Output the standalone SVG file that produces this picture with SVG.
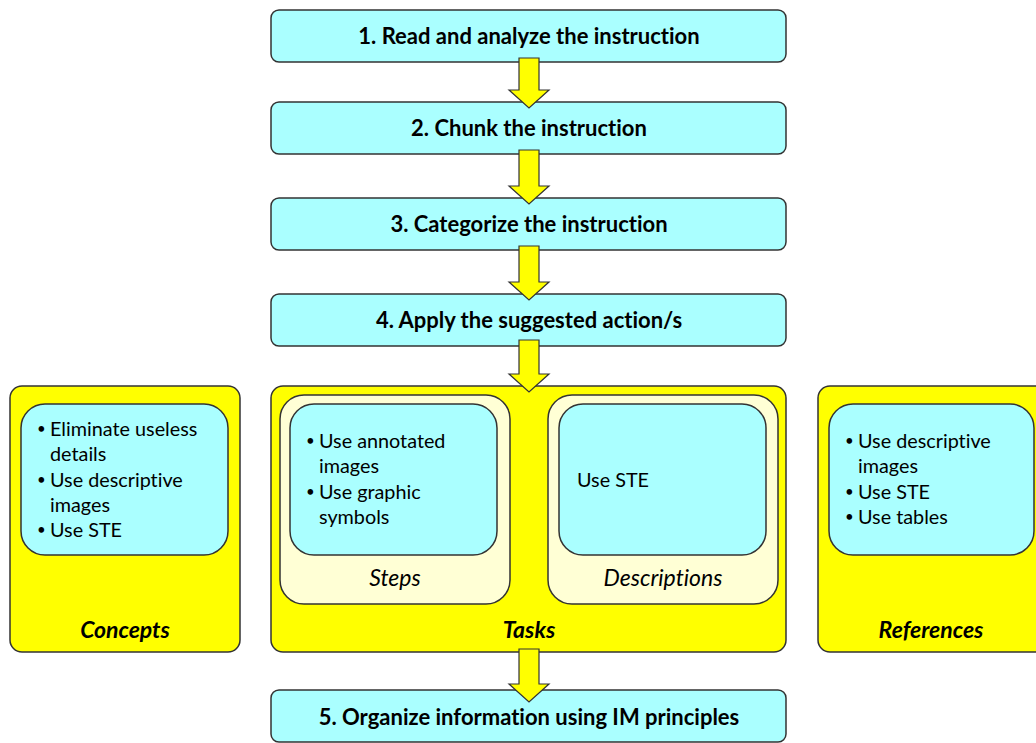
<svg xmlns="http://www.w3.org/2000/svg" width="1036" height="743" viewBox="0 0 1036 743">
<style>
text{font-variant-ligatures:none;font-feature-settings:"liga" 0}
.step{fill:#AAFFFF;stroke:#333;stroke-width:1.5}
.big{fill:#FFFF00;stroke:#333;stroke-width:1.5}
.pan{fill:#FFFFD5;stroke:#333;stroke-width:1.5}
.in{fill:#AAFFFF;stroke:#333;stroke-width:1.5}
.arr{fill:#FFFF00;stroke:#333;stroke-width:1.2;stroke-linejoin:miter}
.h{font-family:Lato,"Liberation Sans",sans-serif;font-weight:bold;font-size:22px;fill:#000;text-anchor:middle}
.t{font-family:Lato,"Liberation Sans",sans-serif;font-size:19.8px;fill:#000}
.b{font-family:Lato,"Liberation Sans",sans-serif;font-size:15px;fill:#000}
.lb{font-family:Lato,"Liberation Sans",sans-serif;font-weight:bold;font-style:italic;font-size:23px;fill:#000;text-anchor:middle}
.li{font-family:Lato,"Liberation Sans",sans-serif;font-style:italic;font-size:23px;fill:#000;text-anchor:middle}
</style>
<g id="concepts">
<rect class="big" x="10" y="386" width="230" height="266" rx="12"/>
<rect class="in" x="21" y="404" width="207" height="151" rx="24"/>
<text class="b" x="37" y="434">•</text><text class="t" x="50" y="436">Eliminate useless</text>
<text class="t" x="50" y="461">details</text>
<text class="b" x="37" y="485">•</text><text class="t" x="50" y="487">Use descriptive</text>
<text class="t" x="50" y="512">images</text>
<text class="b" x="37" y="535">•</text><text class="t" x="50" y="537">Use STE</text>
<text class="lb" x="125" y="638">Concepts</text>
</g>
<g id="tasks">
<rect class="big" x="271" y="386" width="515" height="266" rx="12"/>
<g id="steps">
<rect class="pan" x="280" y="395" width="230" height="209" rx="24"/>
<rect class="in" x="290" y="404" width="207" height="151" rx="24"/>
<text class="b" x="306" y="446">•</text><text class="t" x="319" y="448">Use annotated</text>
<text class="t" x="319" y="473">images</text>
<text class="b" x="306" y="497">•</text><text class="t" x="319" y="499">Use graphic</text>
<text class="t" x="319" y="524">symbols</text>
<text class="li" x="395" y="586">Steps</text>
</g>
<g id="descriptions">
<rect class="pan" x="548" y="395" width="230" height="209" rx="24"/>
<rect class="in" x="559" y="404" width="207" height="151" rx="24"/>
<text class="t" x="577" y="487">Use STE</text>
<text class="li" x="663" y="586">Descriptions</text>
</g>
<text class="lb" x="529" y="638">Tasks</text>
</g>
<g id="references">
<rect class="big" x="818" y="386" width="230" height="266" rx="12"/>
<rect class="in" x="829" y="404" width="205" height="151" rx="24"/>
<text class="b" x="845" y="446">•</text><text class="t" x="858" y="448">Use descriptive</text>
<text class="t" x="858" y="473">images</text>
<text class="b" x="845" y="497">•</text><text class="t" x="858" y="499">Use STE</text>
<text class="b" x="845" y="522">•</text><text class="t" x="858" y="524">Use tables</text>
<text class="lb" x="931" y="638">References</text>
</g>
<g id="step1"><rect class="step" x="271" y="10" width="515" height="52" rx="8"/><text class="h" x="529" y="44">1. Read and analyze the instruction</text></g>
<g id="step2"><rect class="step" x="271" y="102" width="515" height="52" rx="8"/><text class="h" x="529" y="136">2. Chunk the instruction</text></g>
<g id="step3"><rect class="step" x="271" y="198" width="515" height="52" rx="8"/><text class="h" x="529" y="232">3. Categorize the instruction</text></g>
<g id="step4"><rect class="step" x="271" y="294" width="515" height="52" rx="8"/><text class="h" x="529" y="328">4. Apply the suggested action/s</text></g>
<g id="step5"><rect class="step" x="271" y="690" width="515" height="52" rx="8"/><text class="h" x="529" y="725">5. Organize information using IM principles</text></g>
<g id="connectors">
<polygon class="arr" points="519,58 539,58 539,90 549,90 529,108 509,90 519,90"/>
<polygon class="arr" points="519,150 539,150 539,186 549,186 529,204 509,186 519,186"/>
<polygon class="arr" points="519,246 539,246 539,282 549,282 529,300 509,282 519,282"/>
<polygon class="arr" points="519,340 539,340 539,374 549,374 529,392 509,374 519,374"/>
<polygon class="arr" points="519,649 539,649 539,684 549,684 529,702 509,684 519,684"/>
</g>
</svg>
